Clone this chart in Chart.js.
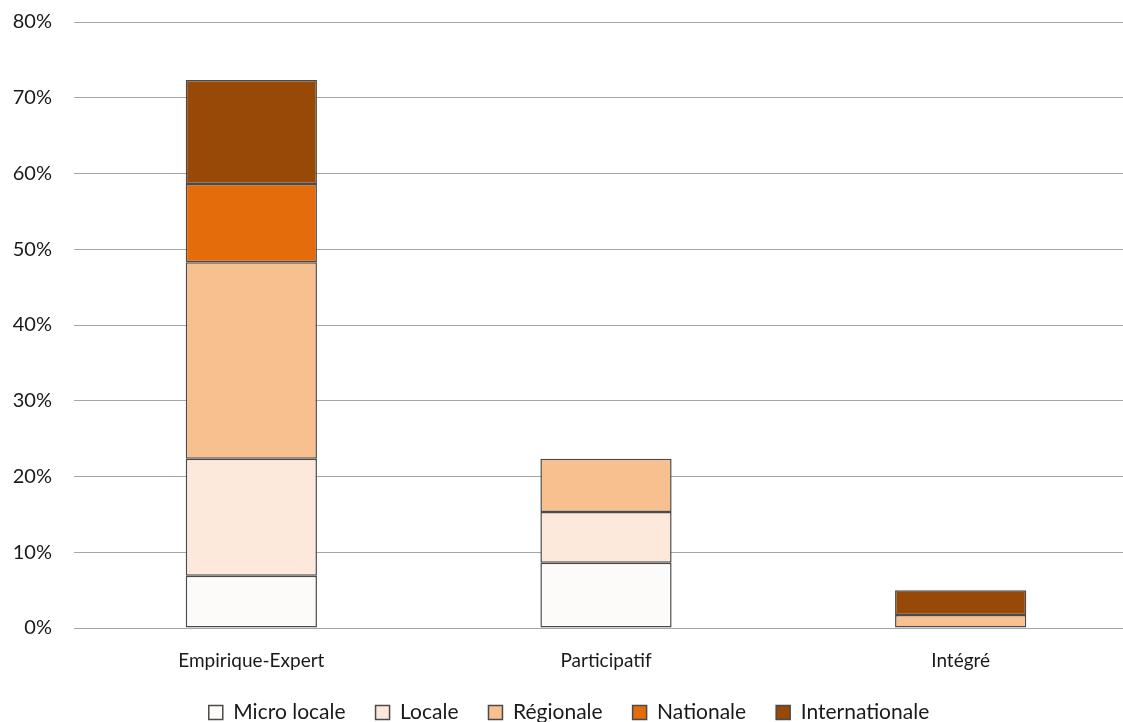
<!DOCTYPE html>
<html>
<head>
<meta charset="utf-8">
<script src="https://cdn.jsdelivr.net/npm/chart.js@4"></script>
<style>
  html, body { margin: 0; padding: 0; background: #fff; overflow: hidden; }
  #wrap { width: 1198px; height: 722px; position: relative; }
</style>
</head>
<body>
<div id="wrap"><canvas id="chart"></canvas></div>
<script>
const categories = ["Empirique-Expert", "Participatif", "Intégré"];
const seriesNames = ["Micro locale", "Locale", "Régionale", "Nationale", "Internationale"];
const microLocale = [6.9, 8.6, 0];
const locale = [15.45, 6.7, 0];
const regionale = [25.95, 7.05, 1.7];
const nationale = [10.3, 0, 0];
const internationale = [13.75, 0, 3.3];
const yTicks = [0, 10, 20, 30, 40, 50, 60, 70, 80];

const colors = ["#FDFBF9", "#FCE9DB", "#F8C08F", "#E46C0A", "#984807"];
const values = [microLocale, locale, regionale, nationale, internationale];

const FONT = "Lato, 'Open Sans', sans-serif";

const ctx = document.getElementById("chart").getContext("2d");
new Chart(ctx, {
  type: "bar",
  data: {
    labels: categories,
    datasets: seriesNames.map((name, i) => ({
      label: name,
      data: values[i],
      backgroundColor: colors[i],
      borderColor: "#4a4a4a",
      borderWidth: 1.5,
      borderSkipped: false,
      barPercentage: 0.37,
      categoryPercentage: 1
    }))
  },
  options: {
    responsive: true,
    maintainAspectRatio: false,
    animation: false,
    layout: { padding: { top: 22, right: 60, bottom: -11, left: 0 } },
    plugins: {
      tooltip: { enabled: false },
      legend: {
        position: "bottom",
        labels: {
          color: "#1a1a1a",
          font: { family: FONT, size: 21 },
          boxWidth: 14,
          boxHeight: 14,
          padding: 30,
          useBorderRadius: false
        }
      }
    },
    scales: {
      x: {
        stacked: true,
        grid: { display: false },
        border: { display: true, color: "#A6A6A6", width: 1 },
        ticks: { color: "#1a1a1a", font: { family: FONT, size: 19 }, padding: 13 },
        afterFit: scale => {
          scale.height = 44;
          scale.paddingLeft = 0;
          scale.paddingRight = 0;
        }
      },
      y: {
        stacked: true,
        min: 0,
        max: 80,
        afterBuildTicks: scale => { scale.ticks = yTicks.map(v => ({ value: v })); },
        grid: { color: "#A6A6A6", lineWidth: 1, drawTicks: false },
        border: { display: false },
        ticks: {
          color: "#1a1a1a",
          font: { family: FONT, size: 20 },
          padding: 22,
          callback: v => v + "%"
        },
        afterFit: scale => {
          scale.width = 74;
          scale.paddingTop = 0;
          scale.paddingBottom = 0;
        }
      }
    }
  }
});
</script>
</body>
</html>
